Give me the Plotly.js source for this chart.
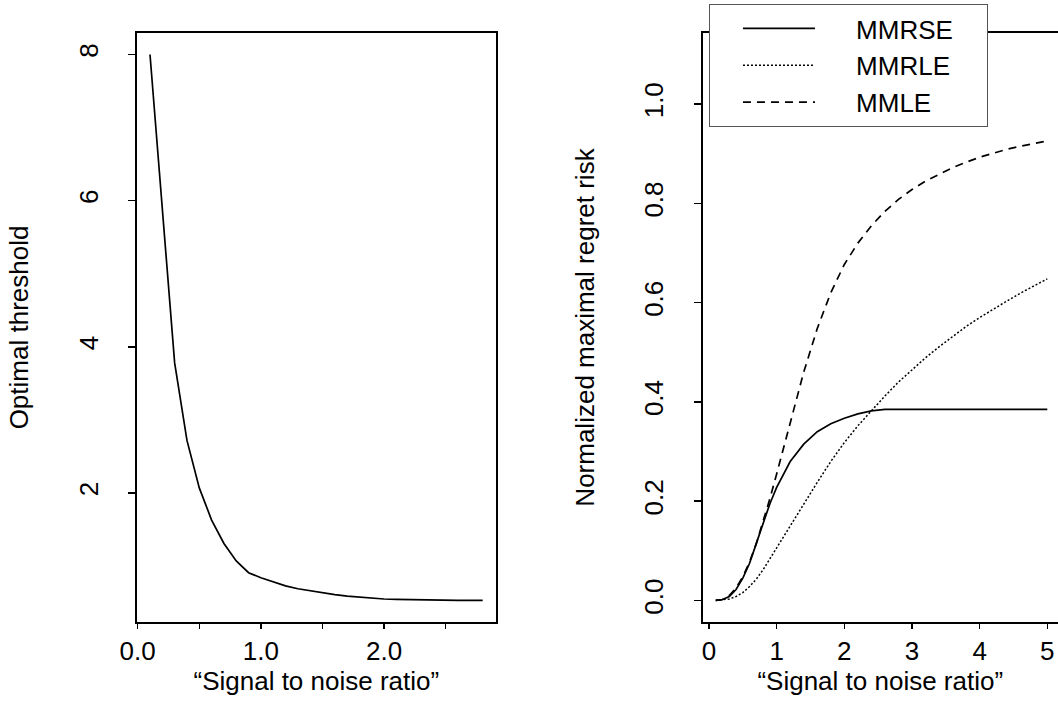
<!DOCTYPE html>
<html><head><meta charset="utf-8">
<script src="https://cdn.plot.ly/plotly-3.0.1.min.js"></script>
<style>html,body{margin:0;padding:0;background:#fff}</style>
</head><body><div id="chart" style="width:1058px;height:707px"></div>
<script>
// Left panel: optimal threshold vs signal to noise ratio
const snrLeft = [0.1,0.2,0.3,0.4,0.5,0.6,0.7,0.8,0.9,1.0,1.1,1.2,1.3,1.4,1.5,1.6,1.7,1.8,1.9,2.0,2.1,2.2,2.3,2.4,2.5,2.6,2.7,2.8];
const threshold = [8.0,5.9,3.78,2.72,2.07,1.63,1.31,1.07,0.91,0.84,0.78,0.73,0.69,0.66,0.63,0.61,0.59,0.575,0.56,0.55,0.545,0.54,0.535,0.53,0.53,0.53,0.53,0.53];
const leftXTicks = [0,0.5,1,1.5,2,2.5];
const leftXTickText = ['0.0','','1.0','','2.0',''];
const leftYTicks = [2,4,6,8];
const leftYTickText = ['2','4','6','8'];

// Right panel: normalized maximal regret risk
const snrRight = [0.1,0.2,0.3,0.4,0.5,0.6,0.7,0.8,0.9,1.0,1.2,1.4,1.6,1.8,2.0,2.2,2.4,2.6,2.8,3.0,3.2,3.4,3.6,3.8,4.0,4.2,4.4,4.6,4.8,5.0];
const mmrse = [0,0.002,0.008,0.022,0.045,0.075,0.115,0.155,0.195,0.228,0.28,0.315,0.34,0.356,0.367,0.376,0.382,0.385,0.385,0.385,0.385,0.385,0.385,0.385,0.385,0.385,0.385,0.385,0.385,0.385];
const mmrle = [0,0.001,0.003,0.008,0.016,0.028,0.043,0.062,0.083,0.106,0.15,0.195,0.238,0.28,0.318,0.352,0.383,0.412,0.44,0.465,0.489,0.511,0.532,0.552,0.57,0.587,0.603,0.619,0.634,0.648];
const mmle = [0,0.002,0.01,0.025,0.048,0.078,0.115,0.158,0.205,0.255,0.36,0.46,0.548,0.62,0.677,0.72,0.755,0.784,0.808,0.828,0.845,0.859,0.872,0.883,0.893,0.901,0.909,0.915,0.921,0.926];
const rightXTicks = [0,1,2,3,4,5];
const rightXTickText = ['0','1','2','3','4','5'];
const rightYTicks = [0,0.2,0.4,0.6,0.8,1.0];
const rightYTickText = ['0.0','0.2','0.4','0.6','0.8','1.0'];
const seriesNames = ['MMRSE','MMRLE','MMLE'];

const FONT = 'Liberation Sans, Arial, Helvetica, sans-serif';
const lw = 1.7;
const NB = '\u00A0';
function legendLabel(s){ return NB.repeat(5) + s + NB.repeat(4); }

const traces = [
  {x:snrLeft, y:threshold, xaxis:'x', yaxis:'y', mode:'lines', line:{color:'#000', width:lw}, showlegend:false},
  {x:snrRight, y:mmrse, xaxis:'x2', yaxis:'y2', mode:'lines', name:legendLabel(seriesNames[0]), line:{color:'#000', width:lw, dash:'solid'}},
  {x:snrRight, y:mmrle, xaxis:'x2', yaxis:'y2', mode:'lines', name:legendLabel(seriesNames[1]), line:{color:'#000', width:1.5, dash:'2px,2px'}},
  {x:snrRight, y:mmle, xaxis:'x2', yaxis:'y2', mode:'lines', name:legendLabel(seriesNames[2]), line:{color:'#000', width:lw, dash:'8px,6px'}}
];

function ax(extra){
  return Object.assign({
    showline:true, linecolor:'#000', linewidth:1.7, showgrid:false, zeroline:false,
    ticks:'outside', tickcolor:'#000', tickwidth:1.5, ticklen:5,
    tickfont:{family:FONT, size:26, color:'#000'}, tickmode:'array', fixedrange:true
  }, extra);
}

const layout = {
  width:1058, height:707, margin:{l:0,r:0,t:0,b:0},
  paper_bgcolor:'#fff', plot_bgcolor:'#fff',
  font:{family:FONT, size:26, color:'#000'},
  showlegend:true,
  legend:{x:0.6701, y:0.9943, xanchor:'left', yanchor:'top', bgcolor:'#fff', bordercolor:'#555', borderwidth:1,
          font:{family:FONT, size:26, color:'#000'}, itemwidth:72, indentation:28},
  xaxis: ax({domain:[0.1292,0.4688], range:[-0.008,2.908], anchor:'y', mirror:true,
            tickvals:leftXTicks, ticktext:leftXTickText,
            title:{text:'\u201CSignal to noise ratio\u201D', font:{family:FONT, size:26}, standoff:6}}),
  yaxis: ax({domain:[0.1198,0.9538], range:[0.231,8.299], anchor:'x', mirror:true, ticklen:7,
            tickvals:leftYTicks, ticktext:leftYTickText, tickangle:-90, ticklabelstandoff:20,
            title:{text:'Optimal threshold', font:{family:FONT, size:26}, standoff:37}}),
  xaxis2: ax({domain:[0.66399,1], range:[-0.096,5.158], anchor:'y2', mirror:true,
            tickvals:rightXTicks, ticktext:rightXTickText,
            title:{text:'\u201CSignal to noise ratio\u201D', font:{family:FONT, size:26}, standoff:6}}),
  yaxis2: ax({domain:[0.1198,0.9538], range:[-0.044,1.144], anchor:'x2', mirror:false, ticklen:7,
            tickvals:rightYTicks, ticktext:rightYTickText, tickangle:-90, ticklabelstandoff:20,
            title:{text:'Normalized maximal regret risk', font:{family:FONT, size:26}, standoff:37}})
};

Plotly.newPlot('chart', traces, layout, {displayModeBar:false, staticPlot:true});
</script>
</body></html>
